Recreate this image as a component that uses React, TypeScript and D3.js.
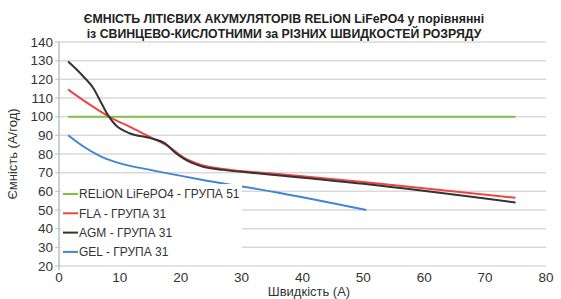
import React from 'react';
import * as d3 from 'd3';

const titleLines = [
  'ЄМНІСТЬ ЛІТІЄВИХ АКУМУЛЯТОРІВ RELiON LiFePO4 у порівнянні',
  'із СВИНЦЕВО-КИСЛОТНИМИ за РІЗНИХ ШВИДКОСТЕЙ РОЗРЯДУ',
];
const xTicks = [0, 10, 20, 30, 40, 50, 60, 70, 80];
const yTicks = [20, 30, 40, 50, 60, 70, 80, 90, 100, 110, 120, 130, 140];

const relionX = [1.5, 75];
const relionY = [100, 100];
const flaX = [1.5, 5.5, 8.5, 12, 15, 18, 20.5, 23.5, 27, 35, 50, 75];
const flaY = [114.5, 105.5, 99.5, 94, 89, 84, 78, 74, 72, 69.5, 65, 56.5];
const agmX = [1.5, 4, 5.7, 7, 8.2, 9.3, 11.7, 15, 17.5, 19, 20.5, 23.3, 27, 31.5, 50, 75];
const agmY = [129.5, 121.5, 115, 107, 100, 95.5, 91, 88.5, 85.5, 81, 77.5, 73.5, 71.5, 70, 64, 54];
const gelX = [1.5, 4, 7, 10, 15, 23, 36.5, 50.5];
const gelY = [90, 84, 78.5, 75, 71.5, 66.5, 59, 50];

const series = [
  { name: 'RELiON LiFePO4 - ГРУПА 51', color: '#7dc242', xs: relionX, ys: relionY },
  { name: 'FLA - ГРУПА 31', color: '#ef4444', xs: flaX, ys: flaY },
  { name: 'AGM - ГРУПА 31', color: '#333333', xs: agmX, ys: agmY },
  { name: 'GEL - ГРУПА 31', color: '#3f86d3', xs: gelX, ys: gelY },
];

const W = 561;
const H = 299;
const left = 59;
const right = 546;
const top = 42;
const bottom = 266;

export default function App() {
  const x = d3.scaleLinear().domain([0, 80]).range([left, right]);
  const y = d3.scaleLinear().domain([20, 140]).range([bottom, top]);
  const line = d3
    .line<[number, number]>()
    .x((d) => x(d[0]))
    .y((d) => y(d[1]))
    .curve(d3.curveMonotoneX);

  const font = '"Liberation Sans", Arial, sans-serif';
  const legX = 62;
  const legY = 194;
  const legStep = 19.3;

  return (
    <svg
      width={W}
      height={H}
      style={{ position: 'absolute', left: 0, top: 0, background: '#fff' }}
      fontFamily={font}
    >
      {/* grid */}
      {yTicks.map((t) => (
        <g key={t}>
          <line x1={left} x2={right} y1={y(t)} y2={y(t)} stroke="#d9d9d9" strokeWidth={1.5} />
          <line x1={left - 4} x2={left} y1={y(t)} y2={y(t)} stroke="#bfbfbf" />
          <text x={left - 6} y={y(t)} dy="0.35em" textAnchor="end" fontSize={13.5} fill="#333">
            {t}
          </text>
        </g>
      ))}
      <line x1={left} x2={left} y1={top} y2={bottom + 4} stroke="#bfbfbf" strokeWidth={1.5} />
      {xTicks.map((t) => (
        <text key={t} x={x(t)} y={bottom + 16} textAnchor="middle" fontSize={13.5} fill="#333">
          {t}
        </text>
      ))}

      {/* title */}
      <rect x={78} y={27} width={412} height={14} fill="#fff" />
      {titleLines.map((l, i) => (
        <text key={i} x={284} y={23 + i * 15} textAnchor="middle" fontSize={12.3} fontWeight="bold" fill="#222">
          {l}
        </text>
      ))}

      {/* series */}
      {series.map((s) => (
        <path
          key={s.name}
          d={line(s.xs.map((v, i) => [v, s.ys[i]] as [number, number])) || ''}
          fill="none"
          stroke={s.color}
          strokeWidth={2}
        />
      ))}

      {/* legend */}
      <rect x={61} y={184} width={181} height={76} fill="#fff" />
      {series.map((s, i) => (
        <g key={s.name} transform={`translate(${legX},${legY + i * legStep})`}>
          <line x1={1} x2={16} y1={0} y2={0} stroke={s.color} strokeWidth={2} />
          <text x={17} y={0} dy="0.35em" fontSize={12} fill="#333">
            {s.name}
          </text>
        </g>
      ))}

      {/* axis titles */}
      <text
        transform={`translate(17,${(top + bottom) / 2}) rotate(-90)`}
        textAnchor="middle"
        fontSize={13}
        fill="#333"
      >
        Ємність (А/год)
      </text>
      <text x={309} y={296} textAnchor="middle" fontSize={13} fill="#333">
        Швидкість (А)
      </text>
    </svg>
  );
}
